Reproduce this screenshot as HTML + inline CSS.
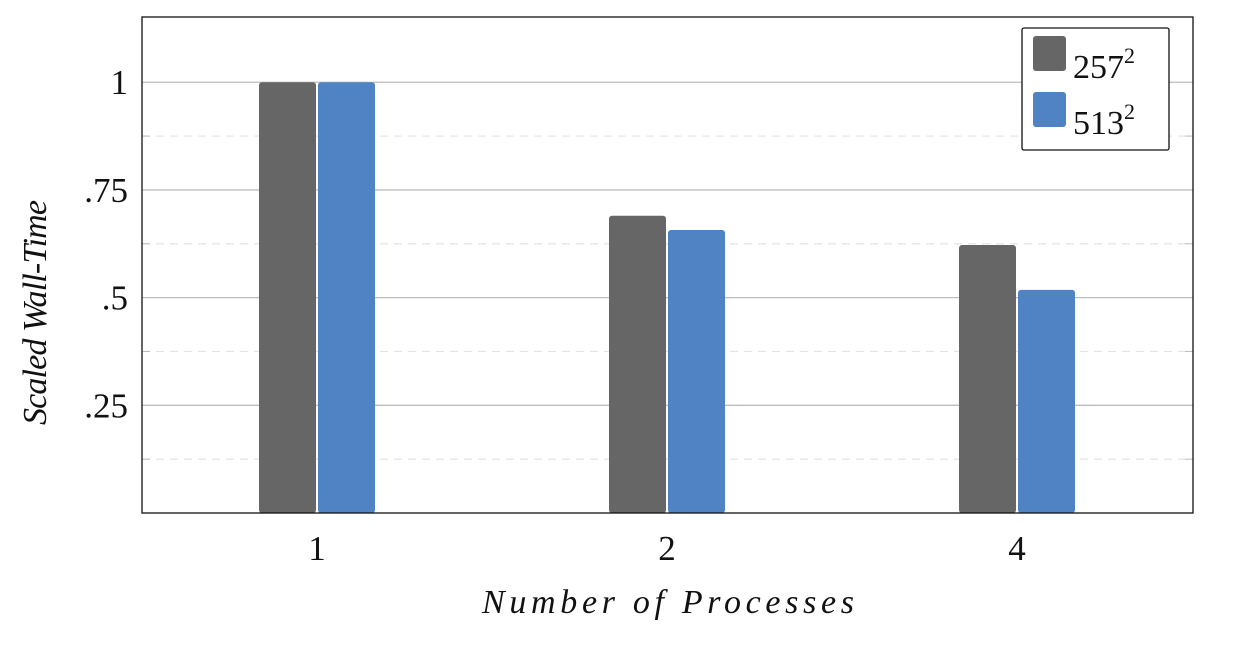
<!DOCTYPE html>
<html><head><meta charset="utf-8">
<style>
html,body{margin:0;padding:0;background:#fff;}
svg{display:block;font-family:"Liberation Serif",serif;}
</style></head>
<body>
<svg id="chart" width="1240" height="646">
<defs></defs>
</svg>
<script>
const categories = ["1","2","4"];
const series257 = [1, 0.69, 0.622];
const series513 = [1, 0.657, 0.518];
const seriesNames = ["257", "513"];
const majorTicks = [0.25, 0.5, 0.75, 1];
const majorTickLabels = [".25", ".5", ".75", "1"];
const minorTicks = [0.125, 0.375, 0.625, 0.875];

const NS = "http://www.w3.org/2000/svg";
const svg = document.getElementById("chart");
const L = 142, R = 1193, T = 17, B = 513;
const yMax = 1.1514;
function y(v){ return B - v / yMax * (B - T); }
function xc(i){ return 317 + i * 350; }
function mk(tag, attrs, parent){
  const e = document.createElementNS(NS, tag);
  for (const k in attrs) e.setAttribute(k, attrs[k]);
  (parent || svg).appendChild(e);
  return e;
}
minorTicks.forEach(v => {
  const g = mk("line", {x1:L, x2:R, y1:y(v), y2:y(v), stroke:"#e4e4e4", "stroke-width":1.2, "stroke-dasharray":"8,6"});
  
  
  [L, R-8].forEach(x0 => { mk("line", {x1:x0, x2:x0+8, y1:y(v), y2:y(v), stroke:"#bbb", "stroke-width":1}); });
});
majorTicks.forEach((v, i) => {
  const g = mk("line", {x1:L, x2:R, y1:y(v), y2:y(v), stroke:"#bdbdbd", "stroke-width":1.3});
  
  
  const t = mk("text", {x:128, y:y(v)+12, "text-anchor":"end", "font-size":35, fill:"#111"});
  t.textContent = majorTickLabels[i];
  
  
});
const colors = ["#666666", "#4f83c3"];
[series257, series513].forEach((s, si) => {
  s.forEach((v, i) => {
    const x0 = xc(i) + (si === 0 ? -58 : 1);
    const b = mk("rect", {x:x0, y:y(v), width:57, height:B - y(v), fill:colors[si], rx:3});
    
    
  });
});
const box = mk("rect", {x:L, y:T, width:R-L, height:B-T, fill:"none", stroke:"#111", "stroke-width":1.3});


categories.forEach((c, i) => {
  const t = mk("text", {x:xc(i), y:560, "text-anchor":"middle", "font-size":35, fill:"#111"});
  t.textContent = c;
  
  
});
const xt = mk("text", {x:482, y:613, "font-size":34, "font-style":"italic", fill:"#111", textLength:372, lengthAdjust:"spacing"});
xt.textContent = "Number of Processes";


const yt = mk("text", {x:0, y:0, "font-size":34, "font-style":"italic", fill:"#111", textLength:225, lengthAdjust:"spacing", transform:"translate(46,425) rotate(-90)"});
yt.textContent = "Scaled Wall-Time";


const lg = mk("g", {});


mk("rect", {x:1022, y:28, width:147, height:122, fill:"#fff", stroke:"#111", "stroke-width":1.3, rx:2}, lg);
seriesNames.forEach((n, i) => {
  const e = mk("g", {}, lg);
  
  
  mk("rect", {x:1033, y:36 + i*56, width:33, height:35, fill:colors[i], rx:3}, e);
  const t = mk("text", {x:1073, y:78 + i*56, "font-size":34, fill:"#111"}, e);
  t.textContent = n;
  const s = mk("tspan", {"font-size":22, dy:-15}, t);
  s.textContent = "2";
});
</script>
</body></html>
